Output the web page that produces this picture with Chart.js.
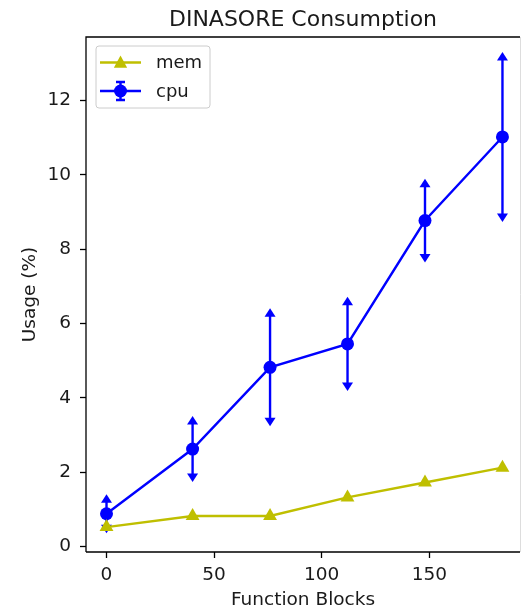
<!DOCTYPE html>
<html>
<head>
<meta charset="utf-8">
<script src="https://cdn.jsdelivr.net/npm/chart.js@4"></script>
<style>
html,body{margin:0;padding:0;background:#fff;}
#wrap{width:521px;height:608px;}
</style>
</head>
<body>
<div id="wrap"><canvas id="c" width="521" height="608"></canvas></div>
<script>
const blocks = [0, 40, 76, 112, 148, 184];
const cpuUsage = [0.88, 2.62, 4.82, 5.45, 8.77, 11.02];
const cpuError = [0.5, 0.86, 1.56, 1.24, 1.1, 2.26];
const memUsage = [0.52, 0.82, 0.82, 1.32, 1.72, 2.12];
const xTicks = [0, 50, 100, 150];
const yTicks = [0, 2, 4, 6, 8, 10, 12];

const FONT = "'DejaVu Sans', sans-serif";
const BLUE = '#0000ff';
const YEL = '#bfbf00';
const TXT = '#1a1a1a';

function drawTri(ctx, x, y, r, color) {
  ctx.save();
  ctx.fillStyle = color;
  ctx.beginPath();
  ctx.moveTo(x, y - r);
  ctx.lineTo(x + r * 0.95, y + r * 0.75);
  ctx.lineTo(x - r * 0.95, y + r * 0.75);
  ctx.closePath();
  ctx.fill();
  ctx.restore();
}

const errPlugin = {
  id: 'errbars',
  beforeDatasetDraw(chart, args) {
    if (args.index !== 1) return;
    const ctx = chart.ctx, xs = chart.scales.x, ys = chart.scales.y;
    ctx.save();
    ctx.strokeStyle = BLUE; ctx.fillStyle = BLUE; ctx.lineWidth = 2.4;
    blocks.forEach((b, i) => {
      const px = xs.getPixelForValue(b);
      const top = ys.getPixelForValue(cpuUsage[i] + cpuError[i]);
      const bot = ys.getPixelForValue(cpuUsage[i] - cpuError[i]);
      ctx.beginPath(); ctx.moveTo(px, top + 2); ctx.lineTo(px, bot - 2); ctx.stroke();
      const w = 5.5, h = 8.5;
      ctx.beginPath(); ctx.moveTo(px, top - 1); ctx.lineTo(px + w, top + h - 1); ctx.lineTo(px - w, top + h - 1); ctx.closePath(); ctx.fill();
      ctx.beginPath(); ctx.moveTo(px, bot + 1); ctx.lineTo(px + w, bot - h + 1); ctx.lineTo(px - w, bot - h + 1); ctx.closePath(); ctx.fill();
    });
    ctx.restore();
  },
  afterDraw(chart) {
    const ctx = chart.ctx, a = chart.chartArea;
    ctx.save();
    // frame
    ctx.strokeStyle = '#000'; ctx.lineWidth = 1.3;
    ctx.beginPath();
    ctx.moveTo(a.left, a.bottom); ctx.lineTo(a.left, a.top); ctx.lineTo(a.right, a.top);
    ctx.moveTo(a.left, a.bottom); ctx.lineTo(a.right, a.bottom);
    ctx.stroke();
    ctx.strokeStyle = '#dddddd'; ctx.lineWidth = 1;
    ctx.beginPath(); ctx.moveTo(a.right + 0.5, a.top); ctx.lineTo(a.right + 0.5, a.bottom); ctx.stroke();
    // legend
    const lx = 96, ly = 46, lw = 114, lh = 62, r = 3;
    ctx.fillStyle = 'rgba(255,255,255,0.8)';
    ctx.strokeStyle = '#cccccc'; ctx.lineWidth = 1;
    ctx.beginPath();
    ctx.moveTo(lx + r, ly); ctx.lineTo(lx + lw - r, ly); ctx.quadraticCurveTo(lx + lw, ly, lx + lw, ly + r);
    ctx.lineTo(lx + lw, ly + lh - r); ctx.quadraticCurveTo(lx + lw, ly + lh, lx + lw - r, ly + lh);
    ctx.lineTo(lx + r, ly + lh); ctx.quadraticCurveTo(lx, ly + lh, lx, ly + lh - r);
    ctx.lineTo(lx, ly + r); ctx.quadraticCurveTo(lx, ly, lx + r, ly);
    ctx.closePath(); ctx.fill(); ctx.stroke();
    const ds = chart.data.datasets;
    const y1 = 62.5, y2 = 91;
    ctx.lineWidth = 2.4;
    ctx.strokeStyle = YEL;
    ctx.beginPath(); ctx.moveTo(100, y1); ctx.lineTo(141, y1); ctx.stroke();
    drawTri(ctx, 120.5, y1, 7, YEL);
    ctx.strokeStyle = BLUE; ctx.fillStyle = BLUE;
    ctx.beginPath(); ctx.moveTo(100, y2); ctx.lineTo(141, y2); ctx.stroke();
    ctx.beginPath(); ctx.moveTo(120.5, y2 - 9); ctx.lineTo(120.5, y2 + 9);
    ctx.moveTo(116, y2 - 9); ctx.lineTo(125, y2 - 9);
    ctx.moveTo(116, y2 + 9); ctx.lineTo(125, y2 + 9); ctx.stroke();
    ctx.beginPath(); ctx.arc(120.5, y2, 6.5, 0, Math.PI * 2); ctx.fill();
    ctx.fillStyle = TXT; ctx.font = '18px ' + FONT; ctx.textBaseline = 'middle'; ctx.textAlign = 'left';
    ctx.fillText(ds[0].label, 156, y1 + 1);
    ctx.fillText(ds[1].label, 156, y2 + 1);
    ctx.restore();
  }
};

new Chart(document.getElementById('c'), {
  type: 'line',
  data: {
    datasets: [
      {
        label: 'mem',
        data: blocks.map((b, i) => ({ x: b, y: memUsage[i] })),
        borderColor: YEL, backgroundColor: YEL, borderWidth: 2.4,
        pointStyle: 'triangle', pointRadius: 8, pointBorderWidth: 0,
        tension: 0, fill: false
      },
      {
        label: 'cpu',
        data: blocks.map((b, i) => ({ x: b, y: cpuUsage[i] })),
        borderColor: BLUE, backgroundColor: BLUE, borderWidth: 2.4,
        pointStyle: 'circle', pointRadius: 6.5, pointBorderWidth: 0,
        tension: 0, fill: false
      }
    ]
  },
  options: {
    responsive: false,
    animation: false,
    events: [],
    layout: { autoPadding: false, padding: { left: 0, right: 1, top: 0, bottom: 0 } },
    plugins: {
      legend: { display: false },
      tooltip: { enabled: false },
      title: {
        display: true, text: 'DINASORE Consumption', fullSize: false,
        color: TXT, font: { family: FONT, size: 22, weight: 'normal' },
        padding: { top: 7, bottom: 3.6 }
      }
    },
    scales: {
      x: {
        type: 'linear', min: -9.53, max: 192.15,
        afterBuildTicks: s => { s.ticks = xTicks.map(v => ({ value: v })); },
        afterFit: s => { s.height = 56; s.paddingLeft = 0; s.paddingRight = 0; },
        grid: { display: true, drawOnChartArea: false, drawTicks: true, tickLength: 6, tickColor: '#000', tickWidth: 1.3 },
        border: { display: false },
        ticks: { color: TXT, font: { family: FONT, size: 18.5 }, padding: 6, maxRotation: 0 },
        title: { display: true, text: 'Function Blocks', color: TXT, font: { family: FONT, size: 18.5, lineHeight: 0.8 }, padding: { top: 0, bottom: 0 } }
      },
      y: {
        type: 'linear', min: -0.15, max: 13.71,
        afterBuildTicks: s => { s.ticks = yTicks.map(v => ({ value: v })); },
        afterFit: s => { s.width = 86; s.paddingTop = 0; s.paddingBottom = 0; },
        grid: { display: true, drawOnChartArea: false, drawTicks: true, tickLength: 6, tickColor: '#000', tickWidth: 1.3 },
        border: { display: false },
        ticks: { color: TXT, font: { family: FONT, size: 18.5 }, padding: 9 },
        title: { display: true, text: 'Usage (%)', color: TXT, font: { family: FONT, size: 18.5 }, padding: { top: 19, bottom: 0 } }
      }
    }
  },
  plugins: [errPlugin]
});
</script>
</body>
</html>
